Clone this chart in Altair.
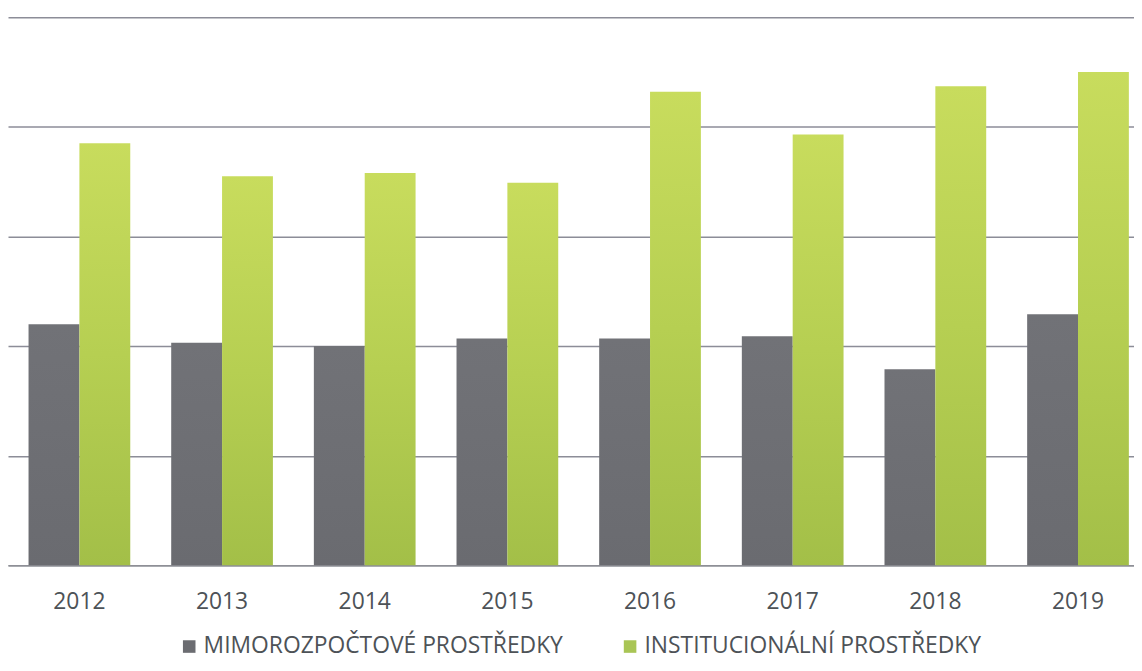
import altair as alt
import pandas as pd

years = ["2012", "2013", "2014", "2015", "2016", "2017", "2018", "2019"]
series = ["MIMOROZPOČTOVÉ PROSTŘEDKY", "INSTITUCIONÁLNÍ  PROSTŘEDKY"]
mimorozpoctove = [2.20, 2.03, 2.00, 2.07, 2.07, 2.09, 1.79, 2.29]
institucionalni = [3.85, 3.55, 3.58, 3.49, 4.32, 3.93, 4.37, 4.50]
grid_values = [0, 1, 2, 3, 4, 5]

rows = []
for y, a, b in zip(years, mimorozpoctove, institucionalni):
    rows.append({"year": y, "series": series[0], "value": a})
    rows.append({"year": y, "series": series[1], "value": b})
df = pd.DataFrame(rows)

FONT = "Open Sans"
TEXT = "#4d5257"

base = alt.Chart(df).encode(
    x=alt.X(
        "year:N",
        sort=years,
        scale=alt.Scale(paddingInner=0.287, paddingOuter=0.09, align=0.8),
        axis=alt.Axis(
            title=None, labelAngle=0, ticks=False, domain=True,
            domainColor="#8e8f96", domainWidth=1.5,
            labelPadding=25, labelFontSize=23, labelFont=FONT,
            labelColor=TEXT, grid=False,
        ),
    ),
    xOffset=alt.XOffset(
        "series:N", sort=series,
        scale=alt.Scale(domain=series, paddingInner=0, paddingOuter=0),
    ),
    y=alt.Y(
        "value:Q",
        scale=alt.Scale(domain=[0, 5], nice=False),
        axis=alt.Axis(
            title=None, labels=False, ticks=False, domain=False,
            values=grid_values, grid=True, gridColor="#8c8d98", gridWidth=1.5,
        ),
    ),
)

gray_grad = alt.Gradient(
    gradient="linear", x1=0, x2=0, y1=0, y2=1,
    stops=[alt.GradientStop(color="#717277", offset=0),
           alt.GradientStop(color="#6a6b70", offset=1)],
)
green_grad = alt.Gradient(
    gradient="linear", x1=0, x2=0, y1=0, y2=1,
    stops=[alt.GradientStop(color="#c8dc5d", offset=0),
           alt.GradientStop(color="#b6cf52", offset=0.5),
           alt.GradientStop(color="#a3bf48", offset=1)],
)

gray_bars = base.transform_filter(alt.datum.series == series[0]).mark_bar(color=gray_grad)
green_bars = base.transform_filter(alt.datum.series == series[1]).mark_bar(color=green_grad)

legend_layer = base.mark_bar(opacity=0).encode(
    color=alt.Color(
        "series:N",
        sort=series,
        scale=alt.Scale(domain=series, range=["#6b6c71", "#a9c555"]),
        legend=alt.Legend(
            orient="none", legendX=171, legendY=622, direction="horizontal",
            title=None, symbolType="square", symbolSize=160,
            symbolStrokeWidth=0, symbolOpacity=1, labelFontSize=23,
            labelFont=FONT, labelColor=TEXT, labelOffset=3,
            columnPadding=56, padding=0, labelLimit=0,
        ),
    )
)

chart = (
    alt.layer(legend_layer, gray_bars, green_bars)
    .properties(
        width=1134, height=552,
        padding={"left": 0, "top": 7, "right": 0, "bottom": 95},
        autosize="none", background="white",
    )
    .configure_view(stroke=None)
)

chart.save("out.html", embed_options={"renderer": "svg", "actions": False})
